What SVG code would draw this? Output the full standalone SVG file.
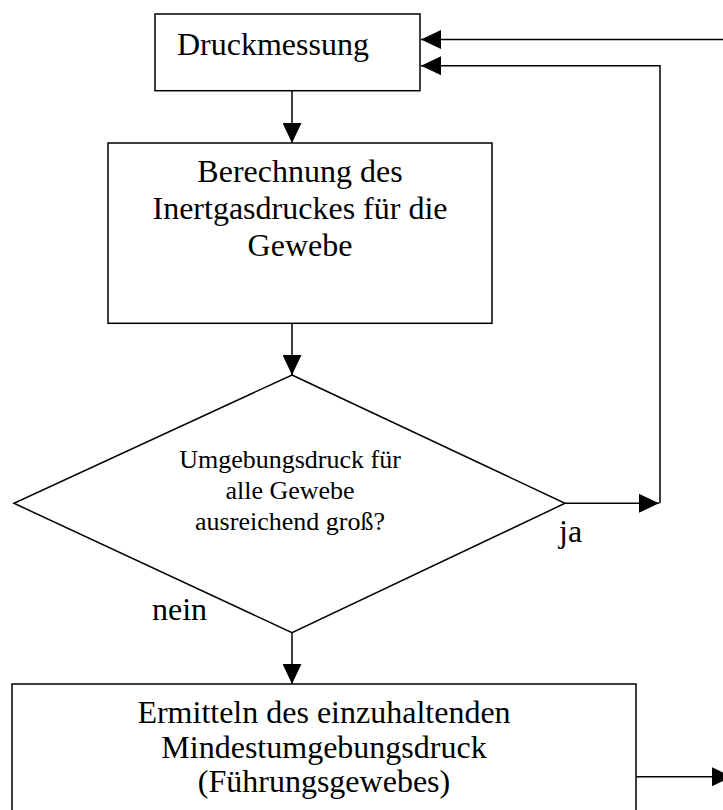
<svg xmlns="http://www.w3.org/2000/svg" width="723" height="810" viewBox="0 0 723 810">
<style>
  .box { fill: #fff; stroke: #000; stroke-width: 1.5; }
  .conn { fill: none; stroke: #000; stroke-width: 1.5; }
  text { font-family: "Liberation Serif", "Times New Roman", serif; fill: #000; }
  .t32 { font-size: 32px; }
  .t26 { font-size: 26px; }
  .mid { text-anchor: middle; }
</style>
<defs>
  <marker id="ah" markerUnits="userSpaceOnUse" markerWidth="20" markerHeight="19" refX="20" refY="9.5" orient="auto">
    <path d="M0,0 L20,9.5 L0,19 z" fill="#000"/>
  </marker>
</defs>
<rect width="723" height="810" fill="#fff"/>
<g id="connectors">
  <path class="conn" d="M730,39.5 H421" marker-end="url(#ah)"/>
  <path class="conn" d="M660,503.3 V65.7 H421" marker-end="url(#ah)"/>
  <path class="conn" d="M565,503.3 H659" marker-end="url(#ah)"/>
  <path class="conn" d="M292,90.7 V143" marker-end="url(#ah)"/>
  <path class="conn" d="M292,323.3 V375" marker-end="url(#ah)"/>
  <path class="conn" d="M292,632.7 V684" marker-end="url(#ah)"/>
  <path class="conn" d="M636,776.7 H732" marker-end="url(#ah)"/>
</g>
<g id="druckmessung">
  <rect class="box" x="155" y="14" width="265" height="76.7"/>
  <text class="t32" x="177" y="55">Druckmessung</text>
</g>
<g id="berechnung">
  <rect class="box" x="108" y="143" width="384" height="180.3"/>
  <text class="t32 mid" x="300" y="182">Berechnung des</text>
  <text class="t32 mid" x="300" y="219">Inertgasdruckes für die</text>
  <text class="t32 mid" x="300" y="256">Gewebe</text>
</g>
<g id="entscheidung">
  <polygon class="box" points="292,375 565,503.3 292,632.7 14,503.3"/>
  <text class="t26 mid" x="290" y="468">Umgebungsdruck für</text>
  <text class="t26 mid" x="290" y="499">alle Gewebe</text>
  <text class="t26 mid" x="290" y="530">ausreichend groß?</text>
</g>
<g id="labels">
  <text class="t32" x="559" y="542">ja</text>
  <text class="t32" x="152" y="620">nein</text>
</g>
<g id="ermitteln">
  <rect class="box" x="12" y="684" width="624" height="140"/>
  <text class="t32 mid" x="324" y="723">Ermitteln des einzuhaltenden</text>
  <text class="t32 mid" x="324" y="758">Mindestumgebungsdruck</text>
  <text class="t32 mid" x="324" y="792">(Führungsgewebes)</text>
</g>
</svg>
